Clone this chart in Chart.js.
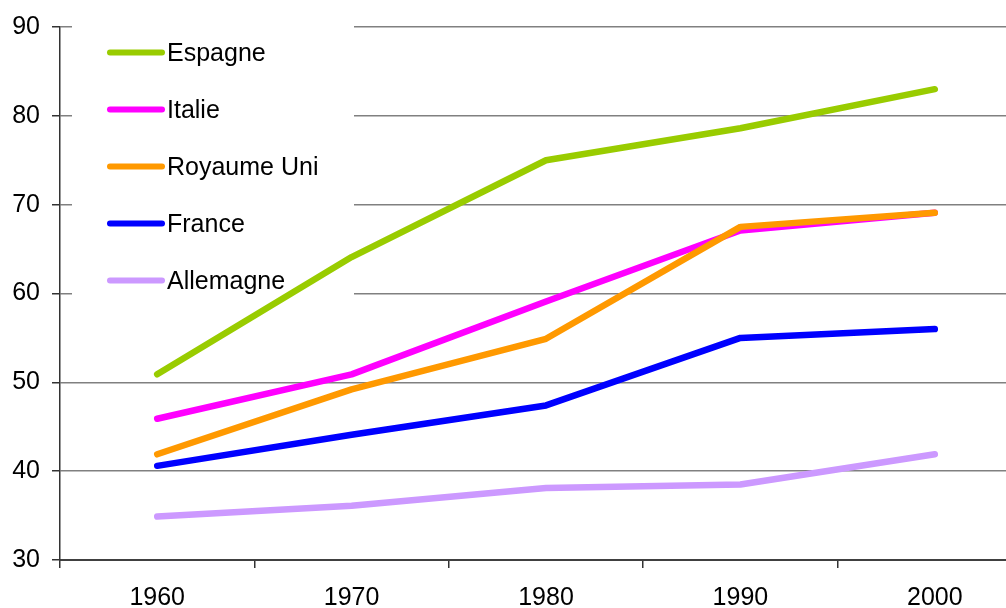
<!DOCTYPE html>
<html lang="fr">
<head>
<meta charset="utf-8">
<title>Évolution 1960–2000</title>
<script src="https://cdn.jsdelivr.net/npm/chart.js@4.4.1/dist/chart.umd.min.js"></script>
<style>
  html, body { margin: 0; padding: 0; background: #fff; overflow: hidden; width: 1006px; height: 608px; }
  #wrap { position: absolute; left: 0; top: 0; width: 1032px; height: 608px; }
</style>
</head>
<body>
<div id="wrap"><canvas id="chart"></canvas></div>
<script>
// Years on the horizontal axis
const years = ['1960', '1970', '1980', '1990', '2000'];

// Series values per country
const espagne    = [50.9, 64.1, 75.0, 78.6, 83.0];
const italie     = [45.9, 50.9, 59.1, 67.1, 69.1];
const royaumeUni = [41.9, 49.2, 54.9, 67.5, 69.1];
const france     = [40.6, 44.1, 47.4, 55.0, 56.0];
const allemagne  = [34.9, 36.1, 38.1, 38.5, 41.9];

// Vertical axis range
const yMin = 30;
const yMax = 90;
const yStep = 10;

const FONT = "'Liberation Sans', Arial, sans-serif";
const FONT_SIZE = 25;

const series = [
  { label: 'Espagne',     data: espagne,    color: '#99CC00', order: 0 },
  { label: 'Italie',      data: italie,     color: '#FF00FF', order: 2 },
  { label: 'Royaume Uni', data: royaumeUni, color: '#FF9900', order: 1 },
  { label: 'France',      data: france,     color: '#0000FF', order: 3 },
  { label: 'Allemagne',   data: allemagne,  color: '#CC99FF', order: 4 }
];

// Legend drawn inside the plot, on a white panel under the lines
const insideLegend = {
  id: 'insideLegend',
  beforeDatasetsDraw(chart) {
    const ctx = chart.ctx;
    const area = chart.chartArea;
    ctx.save();
    ctx.fillStyle = '#ffffff';
    ctx.fillRect(area.left + 12, area.top - 8, 282, 282);
    const x0 = area.left + 50, x1 = area.left + 102;
    const firstY = area.top + 25.5, step = 57;
    ctx.font = FONT_SIZE + 'px ' + FONT;
    ctx.textBaseline = 'alphabetic';
    ctx.textAlign = 'left';
    chart.data.datasets.forEach((ds, i) => {
      const y = firstY + i * step;
      ctx.strokeStyle = ds.borderColor;
      ctx.lineWidth = 6;
      ctx.lineCap = 'round';
      ctx.beginPath();
      ctx.moveTo(x0, y);
      ctx.lineTo(x1, y);
      ctx.stroke();
      ctx.fillStyle = '#000000';
      ctx.fillText(ds.label, x1 + 5, y + 8.7);
    });
    ctx.restore();
  }
};

new Chart(document.getElementById('chart'), {
  type: 'line',
  data: {
    labels: years,
    datasets: series.map(s => ({
      label: s.label,
      data: s.data,
      borderColor: s.color,
      backgroundColor: s.color,
      borderWidth: 6.5,
      borderCapStyle: 'round',
      borderJoinStyle: 'round',
      pointRadius: 0,
      pointHoverRadius: 0,
      tension: 0,
      fill: false,
      order: s.order
    }))
  },
  options: {
    responsive: true,
    maintainAspectRatio: false,
    animation: false,
    devicePixelRatio: 1,
    layout: { padding: { top: 26.7, right: 0, bottom: 0, left: 0 } },
    plugins: {
      legend: { display: false },
      tooltip: { enabled: false },
      title: { display: false }
    },
    scales: {
      x: {
        type: 'category',
        offset: true,
        grid: {
          offset: true,
          drawOnChartArea: false,
          drawTicks: true,
          tickLength: 8,
          tickColor: '#333333',
          lineWidth: 1.5
        },
        border: { display: true, color: '#404040', width: 2 },
        ticks: {
          color: '#000000',
          font: { family: FONT, size: FONT_SIZE },
          padding: 15,
          maxRotation: 0,
          autoSkip: false
        },
        afterFit(scale) { scale.height = 48; }
      },
      y: {
        min: yMin,
        max: yMax,
        grid: {
          color: '#808080',
          lineWidth: 1.5,
          drawTicks: true,
          tickLength: 8,
          tickColor: '#333333'
        },
        border: { display: true, color: '#333333', width: 1.5 },
        ticks: {
          stepSize: yStep,
          color: '#000000',
          font: { family: FONT, size: FONT_SIZE },
          padding: 12
        },
        afterFit(scale) { scale.width = 60; }
      }
    }
  },
  plugins: [insideLegend]
});
</script>
</body>
</html>
